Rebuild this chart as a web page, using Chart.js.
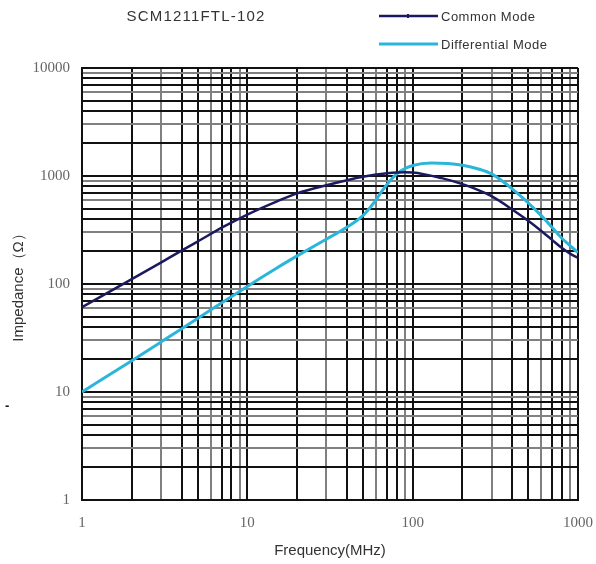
<!DOCTYPE html>
<html><head><meta charset="utf-8">
<script src="https://cdn.jsdelivr.net/npm/chart.js@4.4.1/dist/chart.umd.min.js"></script>
<style>
html,body{margin:0;padding:0;background:#fff;}
#wrap{position:relative;width:596px;height:564px;}
#dash{position:absolute;left:5px;top:398px;font:bold 13px 'Liberation Sans',Arial,sans-serif;color:#111;}
</style>
</head><body>
<div id="wrap"><canvas id="c" width="596" height="564"></canvas><div id="dash">-</div></div>
<script>
const chartTitle = 'SCM1211FTL-102';
const xTitle = 'Frequency(MHz)';
const yTitle = 'Impedance（Ω）';
const seriesNames = ['Common Mode', 'Differential Mode'];

const commonFreq = [1, 2, 3, 4, 5, 7, 10, 15, 20, 30, 50, 70, 90, 100, 150, 200, 250, 300, 400, 500, 600, 700, 800, 900, 1000];
const commonZ    = [61, 111, 158, 204, 247, 332, 440, 580, 690, 820, 985, 1060, 1085, 1080, 955, 840, 740, 650, 490, 385, 310, 255, 215, 190, 175];

const diffFreq = [1, 2, 3, 5, 10, 15, 20, 30, 40, 50, 55, 60, 65, 75, 85, 100, 130, 200, 250, 300, 400, 600, 800, 1000];
const diffZ    = [10, 19.5, 29, 48, 95, 140, 182, 260, 335, 430, 505, 600, 720, 950, 1120, 1250, 1320, 1260, 1160, 1045, 760, 430, 265, 195];

const xTickValues = [1,2,3,4,5,6,7,8,9,10,20,30,40,50,60,70,80,90,100,200,300,400,500,600,700,800,900,1000];
const yTickValues = [1,2,3,4,5,6,7,8,9,10,20,30,40,50,60,70,80,90,100,200,300,400,500,600,700,800,900,1000,2000,3000,4000,5000,6000,7000,8000,9000,10000];
const xLabelValues = [1, 10, 100, 1000];
const yLabelValues = [1, 10, 100, 1000, 10000];

function toPoints(xs, ys){ return xs.map((x,i)=>({x:x, y:ys[i]})); }

function gridColor(c){
  const v = c.tick && c.tick.value;
  if (v == null) return '#111';
  const s = Math.round(v / Math.pow(10, Math.floor(Math.log10(v) + 1e-9)));
  return (s === 3 || s === 6 || s === 9) ? '#808080' : '#111';
}

const overlay = {
  id: 'overlay',
  afterDraw(chart){
    const ctx = chart.ctx;
    ctx.save();
    ctx.fillStyle = '#333';
    ctx.textBaseline = 'middle';
    ctx.textAlign = 'center';
    ctx.font = '15px "Liberation Sans", Arial, sans-serif';
    ctx.letterSpacing = '1.2px';
    ctx.fillText(chartTitle, 196, 17);
    ctx.textAlign = 'left';
    ctx.font = '13px "Liberation Sans", Arial, sans-serif';
    ctx.letterSpacing = '0.5px';
    chart.data.datasets.forEach((ds, i) => {
      const y = 16 + i * 28;
      ctx.strokeStyle = ds.borderColor;
      ctx.lineWidth = ds.borderWidth;
      ctx.beginPath(); ctx.moveTo(379, y); ctx.lineTo(438, y); ctx.stroke();
      if (i === 0) { ctx.fillStyle = ds.borderColor; ctx.fillRect(407, y-2, 2, 4); }
      ctx.fillStyle = '#333';
      ctx.fillText(ds.label, 441, y + 1);
    });
    ctx.restore();
  }
};

const tickFont = {family: '"Liberation Serif", "Times New Roman", serif', size: 15};
const titleFont = {family: '"Liberation Sans", Arial, sans-serif', size: 15};

new Chart(document.getElementById('c'), {
  type: 'line',
  data: {
    datasets: [
      {label: seriesNames[0], data: toPoints(commonFreq, commonZ), borderColor: '#1c1a5e', borderWidth: 2.5,
       pointRadius: 0, cubicInterpolationMode: 'monotone', fill: false},
      {label: seriesNames[1], data: toPoints(diffFreq, diffZ), borderColor: '#2bb5da', borderWidth: 3,
       pointRadius: 0, cubicInterpolationMode: 'monotone', fill: false}
    ]
  },
  options: {
    responsive: false,
    animation: false,
    devicePixelRatio: 1,
    layout: {padding: {top: 68, right: 18, bottom: 0, left: 0}},
    plugins: {legend: {display: false}, title: {display: false}, tooltip: {enabled: false}},
    scales: {
      x: {
        type: 'logarithmic', min: 1, max: 1000,
        afterBuildTicks: s => { s.ticks = xTickValues.map(v => ({value: v})); },
        afterFit: s => { s.height = 64; s.paddingLeft = 0; s.paddingRight = 0; },
        ticks: {autoSkip: false, maxRotation: 0, minRotation: 0, padding: 14, color: '#666', font: tickFont,
                callback: v => xLabelValues.includes(v) ? String(v) : ''},
        grid: {color: gridColor, lineWidth: 2, drawTicks: false},
        border: {display: true, color: '#111', width: 2},
        title: {display: true, text: xTitle, color: '#333', font: titleFont, padding: {top: 0, bottom: 4}}
      },
      y: {
        type: 'logarithmic', min: 1, max: 10000,
        afterBuildTicks: s => { s.ticks = yTickValues.map(v => ({value: v})); },
        afterFit: s => { s.width = 82; s.paddingTop = 0; s.paddingBottom = 0; },
        ticks: {autoSkip: false, padding: 12, color: '#666', font: tickFont,
                callback: v => yLabelValues.includes(v) ? String(v) : ''},
        grid: {color: gridColor, lineWidth: 2, drawTicks: false},
        border: {display: true, color: '#111', width: 2},
        title: {display: true, text: yTitle, color: '#333', font: titleFont, padding: {top: 10, bottom: 0}}
      }
    }
  },
  plugins: [overlay]
});
</script>
</body></html>
